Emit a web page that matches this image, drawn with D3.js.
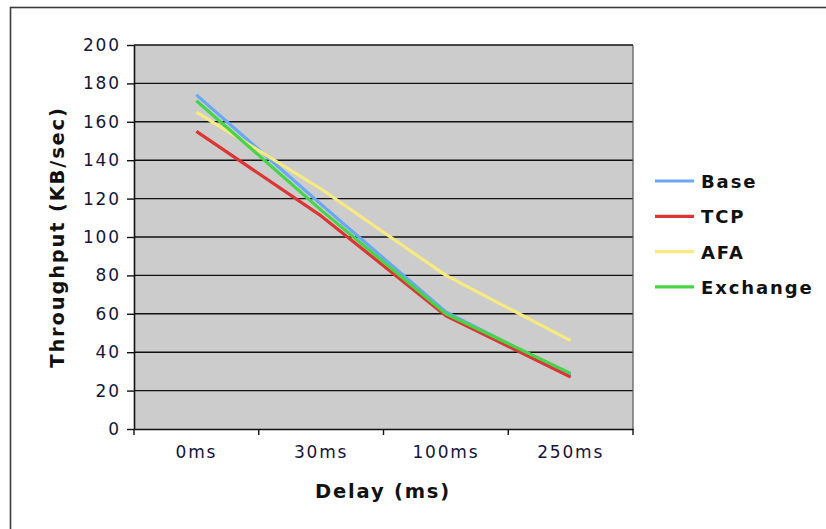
<!DOCTYPE html>
<html>
<head>
<meta charset="utf-8">
<script src="https://cdn.jsdelivr.net/npm/d3@7"></script>
<style>
  html, body { margin: 0; padding: 0; background: #ffffff; }
  svg { display: block; }
</style>
</head>
<body>
<svg id="chart" width="826" height="529"></svg>
<script>
// ---- data ----
const categories = ["0ms", "30ms", "100ms", "250ms"];
const seriesNames = ["Base", "TCP", "AFA", "Exchange"];
const baseValues = [174, 117, 61, 28];
const tcpValues = [155, 111, 59, 27];
const afaValues = [165, 125, 80, 46];
const exchangeValues = [171, 114, 60, 29];
const yTicks = [0, 20, 40, 60, 80, 100, 120, 140, 160, 180, 200];
const seriesColors = ["#69a8f6", "#dc3535", "#f6ea80", "#48d448"];

const seriesValues = [baseValues, tcpValues, afaValues, exchangeValues];

// ---- layout ----
const svg = d3.select("#chart");
const plotLeft = 134, plotRight = 633, plotTop = 45, plotBottom = 429;
const fontFam = "'DejaVu Sans', Verdana, sans-serif";

const x = d3.scaleBand().domain(categories).range([plotLeft, plotRight]);
const y = d3.scaleLinear().domain([0, 200]).range([plotBottom, plotTop]);

// outer frame (extends past right/bottom edges)
svg.append("rect")
  .attr("x", 10.5).attr("y", 7.5)
  .attr("width", 900).attr("height", 600)
  .attr("fill", "none").attr("stroke", "#3c3c3c").attr("stroke-width", 1.6);

// plot background
svg.append("rect")
  .attr("x", plotLeft).attr("y", plotTop)
  .attr("width", plotRight - plotLeft).attr("height", plotBottom - plotTop)
  .attr("fill", "#cccccc");

// gridlines
svg.append("g").selectAll("line").data(yTicks.filter(d => d > 0)).join("line")
  .attr("x1", plotLeft).attr("x2", plotRight)
  .attr("y1", d => y(d)).attr("y2", d => y(d))
  .attr("stroke", "#111").attr("stroke-width", 1.4);

// right border of plot
svg.append("line")
  .attr("x1", plotRight).attr("x2", plotRight).attr("y1", plotTop).attr("y2", plotBottom)
  .attr("stroke", "#555").attr("stroke-width", 1.2);

// y axis
const yAxis = d3.axisLeft(y).tickValues(yTicks).tickSize(7).tickPadding(8).tickSizeOuter(0);
const gy = svg.append("g").attr("transform", `translate(${plotLeft},0)`).call(yAxis);
gy.select(".domain").attr("stroke", "#111").attr("stroke-width", 1.6);
gy.selectAll(".tick line").attr("stroke", "#111").attr("stroke-width", 1.4);
gy.selectAll(".tick text")
  .attr("font-family", fontFam)
  .attr("font-size", 17).attr("letter-spacing", "1.8px")
  .attr("fill", "#15153a").attr("dx", "1.8");

// x axis labels
const xAxis = d3.axisBottom(x).tickSize(0).tickPadding(17).tickSizeOuter(0);
const gx = svg.append("g").attr("transform", `translate(0,${plotBottom})`).call(xAxis);
gx.select(".domain").attr("stroke", "#111").attr("stroke-width", 1.6);
gx.selectAll(".tick text")
  .attr("font-family", fontFam)
  .attr("font-size", 17).attr("letter-spacing", "1.8px")
  .attr("fill", "#15153a");

// x boundary ticks
const bounds = categories.map(c => x(c)).concat([x.range()[1]]);
svg.append("g").selectAll("line").data(bounds).join("line")
  .attr("x1", d => d).attr("x2", d => d)
  .attr("y1", plotBottom).attr("y2", plotBottom + 6)
  .attr("stroke", "#111").attr("stroke-width", 1.4);

// lines
const line = d3.line()
  .x((d, i) => x(categories[i]) + x.bandwidth() / 2)
  .y(d => y(d));

svg.append("g").selectAll("path").data(seriesValues).join("path")
  .attr("d", d => line(d))
  .attr("fill", "none")
  .attr("stroke", (d, i) => seriesColors[i])
  .attr("stroke-width", 3.2)
  .attr("stroke-linejoin", "round");

// axis titles
svg.append("text")
  .attr("x", 383).attr("y", 498)
  .attr("text-anchor", "middle")
  .attr("font-family", fontFam)
  .attr("font-weight", "bold").attr("font-size", 19.5).attr("letter-spacing", "1.8px")
  .attr("fill", "#111")
  .text("Delay (ms)");

svg.append("text")
  .attr("transform", `translate(64,${(plotTop + plotBottom) / 2}) rotate(-90)`)
  .attr("text-anchor", "middle")
  .attr("font-family", fontFam)
  .attr("font-weight", "bold").attr("font-size", 19.5).attr("letter-spacing", "1.8px")
  .attr("fill", "#111")
  .text("Throughput (KB/sec)");

// legend
const legend = svg.append("g");
const lg = legend.selectAll("g").data(seriesNames).join("g")
  .attr("transform", (d, i) => `translate(655,${181 + i * 35.3})`);
lg.append("line")
  .attr("x1", 0).attr("x2", 39).attr("y1", 0).attr("y2", 0)
  .attr("stroke", (d, i) => seriesColors[i]).attr("stroke-width", 3.2);
lg.append("text")
  .attr("x", 46).attr("y", 7)
  .attr("font-family", fontFam)
  .attr("font-weight", "bold").attr("font-size", 18).attr("letter-spacing", "1.9px")
  .attr("fill", "#111")
  .text(d => d);
</script>
</body>
</html>
